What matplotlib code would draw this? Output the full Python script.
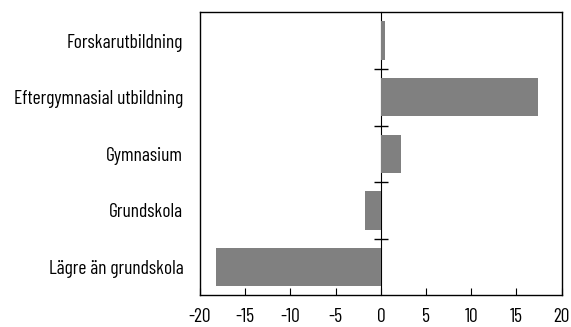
import matplotlib
matplotlib.use("Agg")
import matplotlib.pyplot as plt

categories = ["Lägre än grundskola", "Grundskola", "Gymnasium",
              "Eftergymnasial utbildning", "Forskarutbildning"]
values = [-18.2, -1.8, 2.2, 17.4, 0.45]
xticks = [-20, -15, -10, -5, 0, 5, 10, 15, 20]
boundaries = [0.5, 1.5, 2.5, 3.5]

plt.rcParams['font.family'] = ['Barlow Condensed', 'Roboto Condensed', 'DejaVu Sans']

fig = plt.figure(figsize=(5.71, 3.27), dpi=100)
ax = fig.add_axes([200/571, 1-295.3/327, 361.7/571, 283/327])
ypos = list(range(len(categories)))
ax.barh(ypos, values, height=0.68, color="#808080", zorder=2)
ax.set_xlim(-20, 20)
ax.set_ylim(-0.5, 4.5)
ax.set_yticks(ypos)
ax.set_yticklabels(categories, fontsize=14)
ax.tick_params(axis='y', length=0, pad=12)
ax.set_xticks(xticks)
ax.set_xticklabels([str(t) for t in xticks], fontsize=14)
ax.tick_params(axis='x', direction='in', length=5, width=0.8, pad=9)
for s in ax.spines.values():
    s.set_linewidth(1.0)

sec = ax.secondary_yaxis(0.5)
sec.set_yticks(boundaries)
sec.set_yticklabels([])
sec.tick_params(direction='inout', length=10, width=1.0)
sec.spines['left'].set_linewidth(1.0)

fig.savefig("out.png", dpi=100)
